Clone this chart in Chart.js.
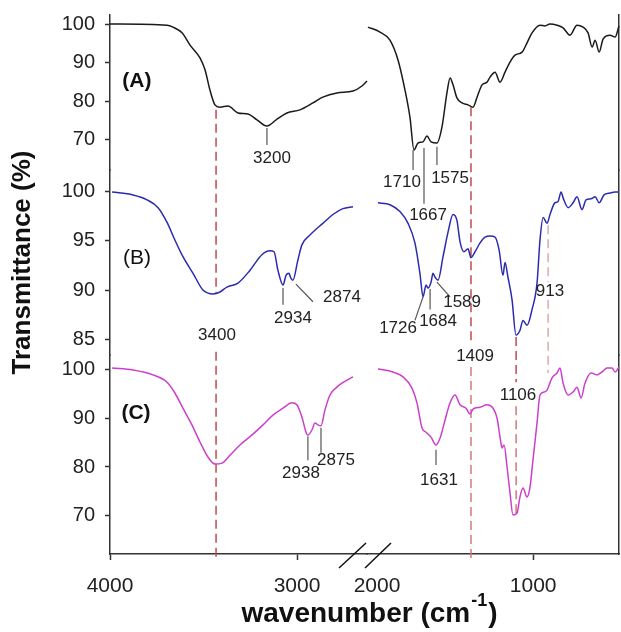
<!DOCTYPE html>
<html><head><meta charset="utf-8">
<script src="https://cdn.jsdelivr.net/npm/chart.js@4"></script>
<style>html,body{margin:0;padding:0;background:#fff}#wrap{width:621px;height:632px;position:relative}</style>
</head><body><div id="wrap"><canvas id="c"></canvas></div>
<script>
// ---- data (wavenumber in cm-1, transmittance in %) ----
const wnAL = [4000,3695,3663,3615,3572,3519,3492,3466,3439,3412,3369,3316,3262,3214,3161,3107,3054,2985,2915,2862,2787,2701,2653,2626];
const tAL  = [100,99.7,99.2,97.7,94.5,91.2,88.1,82.9,79.0,78.4,78.7,76.9,76.6,75.1,73.5,75.3,76.9,77.7,79.5,81.0,82.1,82.6,83.9,85.2];
const wnAR = [2058,1981,1917,1865,1821,1789,1763,1737,1705,1680,1654,1616,1584,1552,1532,1513,1488,1455,1417,1385,1359,1327,1295,1276,1244,1212,1180,1148,1116,1071,1039,1007,956,924,892,847,808,764,719,680,648,622,603,577,552,507,475,450];
const tAR  = [99.2,97.9,95.8,90.6,82.9,75.8,67.3,69.1,69.4,70.9,69.4,69.1,73.2,82.1,86.0,84.2,80.8,79.5,79.0,78.4,81.0,84.2,84.9,86.2,87.5,84.9,87.5,90.1,91.9,92.7,95.1,97.7,99.7,99.5,100.0,99.7,99.0,97.1,99.7,99.2,97.7,94.0,95.8,92.7,96.1,97.1,96.6,99.5];

const wnBL = [3989,3877,3802,3743,3695,3653,3610,3556,3503,3449,3412,3375,3316,3252,3188,3145,3123,3102,3075,3059,3043,3033,3022,2995,2974,2931,2862,2808,2755,2701];
const tBL  = [100,99.7,99.2,98.4,96.9,95.1,93.4,91.7,90.0,89.6,89.8,90.3,90.7,92.0,93.6,94.0,93.9,92.0,90.5,91.5,91.7,91.2,91.0,93.1,94.6,95.6,96.8,97.7,98.3,98.5];
const wnBR = [1994,1917,1853,1801,1757,1725,1705,1686,1673,1654,1641,1628,1609,1577,1545,1513,1488,1468,1443,1417,1398,1372,1340,1308,1276,1244,1218,1193,1180,1161,1135,1110,1084,1065,1039,1007,975,956,936,911,892,860,841,821,808,776,744,719,687,661,629,603,577,546,507,475,450];
const tBR  = [98.9,98.7,98.0,96.8,94.8,91.7,89.3,90.5,90.2,90.8,91.7,91.3,91.0,93.4,95.9,97.7,97.1,94.9,93.9,94.2,93.3,93.9,94.8,95.4,95.5,95.4,94.1,91.5,92.8,91.3,89.0,85.4,85.9,86.9,86.4,88.0,90.7,95.1,97.4,96.8,97.7,98.9,99.0,100.0,99.4,98.4,98.9,99.5,98.2,99.2,99.3,99.5,98.9,99.7,99.9,100.0,100.0];

const wnCL = [3989,3877,3770,3695,3653,3610,3562,3519,3476,3439,3401,3359,3305,3236,3182,3129,3075,3027,3001,2974,2952,2942,2920,2904,2888,2872,2851,2824,2787,2760,2701];
const tCL  = [100.2,99.8,98.8,97.3,95.1,92.0,88.6,85.1,82.0,80.6,80.8,82.4,84.5,86.7,88.6,90.6,92.0,93.1,92.7,90.2,87.1,86.5,87.6,89.0,88.6,88.4,91.6,94.7,96.3,97.1,98.4];
const wnCR = [1994,1898,1833,1776,1744,1712,1686,1654,1622,1596,1564,1532,1500,1468,1430,1404,1385,1340,1295,1257,1231,1212,1199,1186,1167,1148,1129,1103,1084,1065,1039,1020,1001,975,956,930,911,879,847,828,808,776,744,719,693,668,629,591,559,527,495,475,450];
const tCR  = [100.0,99.4,98.4,96.1,93.1,88.0,87.1,86.1,84.5,85.9,89.6,93.1,94.7,92.7,92.0,90.8,91.8,92.2,92.7,92.0,90.0,86.1,83.9,84.5,80.0,74.7,70.2,70.6,73.9,75.7,73.9,75.9,81.4,89.0,94.7,95.3,95.7,98.2,99.2,100.2,97.1,94.7,95.3,96.3,94.1,97.1,99.2,98.8,99.4,100.2,100.2,99.4,100.4];

// ---- tick labels ----
const xTicksLeft  = [4000, 3000];
const xTicksRight = [2000, 1000];
const yTicksA = [70, 80, 90, 100];
const yTicksB = [85, 90, 95, 100];
const yTicksC = [70, 80, 90, 100];

// ---- annotations (in data units: panel, wavenumber, transmittance) ----
const panelTags = [['(A)','A',3856,85.2,'bold'],['(B)','B',3856,93.2,'normal'],['(C)','C',3861,91.0,'bold']];
const peakTexts = [
  ['3200','A',3134,65.2],['1710','A',1840,59.0],['1667','B',1673,97.65],['1575','A',1532,60.0],
  ['3400','B',3428,85.4],['2934','B',3022,87.1],['2874','B',2760,89.3],['1726','B',1865,86.1],
  ['1684','B',1609,86.8],['1589','B',1455,88.7],['913','B',892,89.9],['1409','B',1372,83.2],
  ['2938','C',2979,78.8],['2875','C',2792,81.4],['1631','C',1603,77.3],['1106','C',1097,94.7]
];
const peakMarks = [
  ['A',3161,73.0,3161,68.6],['A',1769,67.3,1769,62.1],['A',1699,67.8,1699,53.3],['A',1616,68.1,1616,63.4],
  ['B',3075,90.2,3075,88.5],['B',3006,90.6,2915,88.8],['B',1705,89.3,1757,86.9],['B',1660,90.1,1660,88.0],
  ['B',1616,90.8,1532,89.3],['C',2942,86.3,2942,81.4],['C',2872,88.0,2872,82.9],['C',1622,83.5,1622,80.4]
];
const dashLines = [
  [3433,'A',77.7,'B',89.7,0],[3433,'C',103.5,'C',61.2,0],
  [1398,'A',78.4,'B',84.4,0],[1398,'C',100.4,'C',61.4,1],
  [1109,'B',85.2,'C',97.3,0],[1109,'C',92.4,'C',70.6,1],
  [904,'B',96.6,'B',90.8,2],[904,'B',89.0,'C',99.2,2]
];

const FONT = "'Liberation Sans', Arial, Helvetica, sans-serif";
const dashColors = ['#c24a4a','#d07a7a','#dcaaaa'];

function fixedTicks(vals){ return s => { s.ticks = vals.map(v => ({value: v})); }; }
function noPad(s){ s.paddingLeft = 0; s.paddingRight = 0; s.paddingTop = 0; s.paddingBottom = 0; }
function ds(wn, t, xID, yID, color){
  return { data: wn.map((w,i) => ({x: w, y: t[i]})), xAxisID: xID, yAxisID: yID,
    borderColor: color, borderWidth: 1.5, pointRadius: 0, fill: false,
    cubicInterpolationMode: 'monotone', clip: false };
}
function yAxis(min, max, ticks, sw, weight, extra){
  return Object.assign({
    type: 'linear', position: 'left', stack: 'y', stackWeight: sw, weight: weight, min: min, max: max,
    afterBuildTicks: fixedTicks(ticks), afterFit: s => { s.width = 110; noPad(s); },
    ticks: { font: {family: FONT, size: 20}, color: '#222', padding: 10, callback: v => String(v) },
    grid: { drawOnChartArea: false, tickLength: 5, tickColor: '#333', tickWidth: 1.5 },
    border: { color: '#333', width: 1.5 }
  }, extra || {});
}
function rAxis(sw, weight){
  return { type: 'linear', position: 'right', stack: 'yr', stackWeight: sw, weight: weight,
    afterFit: s => { s.width = 0; noPad(s); }, ticks: { display: false },
    grid: { drawOnChartArea: false, drawTicks: false }, border: { color: '#333', width: 1.5 } };
}
function xAxis(min, max, ticks, sw, weight){
  return { type: 'linear', position: 'bottom', stack: 'x', stackWeight: sw, weight: weight, reverse: true,
    min: min, max: max, afterBuildTicks: fixedTicks(ticks), afterFit: s => { s.height = 78; noPad(s); },
    ticks: { font: {family: FONT, size: 21}, color: '#222', padding: 14, maxRotation: 0, autoSkip: false, callback: v => String(v) },
    grid: { drawOnChartArea: false, tickLength: 6, tickWidth: 1.5,
      tickColor: c => (c.tick && c.tick.value === 2000) ? 'rgba(0,0,0,0)' : '#333' },
    border: { color: '#333', width: 1.5 } };
}

const annot = {
  id: 'annot',
  beforeDatasetsDraw(chart){
    const ctx = chart.ctx;
    ctx.save();
    ctx.lineWidth = 1.5; ctx.setLineDash([9,5]);
    dashLines.forEach(d => {
      const x = X(chart, d[0]);
      ctx.strokeStyle = dashColors[d[5]];
      ctx.beginPath(); ctx.moveTo(x, Y(chart, d[1], d[2])); ctx.lineTo(x, Y(chart, d[3], d[4])); ctx.stroke();
    });
    ctx.restore();
  },
  afterDatasetsDraw(chart){
    const ctx = chart.ctx, ca = chart.chartArea;
    ctx.save();
    ctx.strokeStyle = '#555'; ctx.lineWidth = 1.2;
    peakMarks.forEach(m => {
      ctx.beginPath(); ctx.moveTo(X(chart, m[1]), Y(chart, m[0], m[2]));
      ctx.lineTo(X(chart, m[3]), Y(chart, m[0], m[4])); ctx.stroke();
    });
    ctx.fillStyle = '#222'; ctx.textAlign = 'center'; ctx.textBaseline = 'middle';
    ctx.font = '17px ' + FONT;
    peakTexts.forEach(p => ctx.fillText(p[0], X(chart, p[2]), Y(chart, p[1], p[3])));
    ctx.fillStyle = '#111';
    panelTags.forEach(p => { ctx.font = p[4] + ' 21px ' + FONT; ctx.fillText(p[0], X(chart, p[2]), Y(chart, p[1], p[3])); });
    // axis break marks
    const xb = chart.scales.xL.right, b = ca.bottom;
    ctx.strokeStyle = '#111'; ctx.lineWidth = 1.5;
    ctx.beginPath(); ctx.moveTo(xb - 28, b + 14); ctx.lineTo(xb - 1, b - 11); ctx.stroke();
    ctx.beginPath(); ctx.moveTo(xb - 2, b + 14); ctx.lineTo(xb + 24, b - 11); ctx.stroke();
    // x axis title with superscript
    const s1 = 'wavenumber (cm', s2 = '-1', s3 = ')';
    ctx.textAlign = 'left'; ctx.textBaseline = 'alphabetic'; ctx.fillStyle = '#111';
    ctx.font = 'bold 28px ' + FONT; const w1 = ctx.measureText(s1).width, w3 = ctx.measureText(s3).width;
    ctx.font = 'bold 18px ' + FONT; const w2 = ctx.measureText(s2).width;
    const cx = (ca.left + ca.right) / 2 + 5, by = b + 68;
    let x0 = cx - (w1 + w2 + w3 + 2) / 2;
    ctx.font = 'bold 28px ' + FONT; ctx.fillText(s1, x0, by);
    ctx.font = 'bold 18px ' + FONT; ctx.fillText(s2, x0 + w1 + 1, by - 16);
    ctx.font = 'bold 28px ' + FONT; ctx.fillText(s3, x0 + w1 + w2 + 2, by);
    ctx.restore();
  }
};
function X(chart, wn){ const L = chart.scales.xL; return (wn >= L.min ? L : chart.scales.xR).getPixelForValue(wn); }
function Y(chart, p, t){ return chart.scales['y' + p].getPixelForValue(t); }

new Chart(document.getElementById('c'), {
  type: 'line',
  data: { datasets: [
    ds(wnAL, tAL, 'xL', 'yA', '#1a1a1a'), ds(wnAR, tAR, 'xR', 'yA', '#1a1a1a'),
    ds(wnBL, tBL, 'xL', 'yB', '#2b2bb0'), ds(wnBR, tBR, 'xR', 'yB', '#2b2bb0'),
    ds(wnCL, tCL, 'xL', 'yC', '#cc3fcc'), ds(wnCR, tCR, 'xR', 'yC', '#cc3fcc')
  ]},
  options: {
    responsive: true, maintainAspectRatio: false, animation: false, events: [],
    layout: { padding: { top: 15, right: 2, bottom: 0, left: 0 } },
    plugins: { legend: { display: false }, tooltip: { enabled: false } },
    scales: {
      xL: xAxis(2626, 4000, xTicksLeft, 257, 0),
      xR: xAxis(450, 2064, xTicksRight, 252, 1),
      yA: yAxis(62.08, 102.34, yTicksA, 155, 3),
      yB: yAxis(83.37, 102.24, yTicksB, 185, 2, { title: { display: true, text: 'Transmittance (%)',
            font: { family: FONT, size: 26, weight: 'bold' }, color: '#111', padding: { top: 7, bottom: 0 } } }),
      yC: yAxis(62.24, 102.86, yTicksC, 199, 1),
      rA: rAxis(155, 1), rB: rAxis(185, 2), rC: rAxis(199, 3)
    }
  },
  plugins: [annot]
});
</script></body></html>
